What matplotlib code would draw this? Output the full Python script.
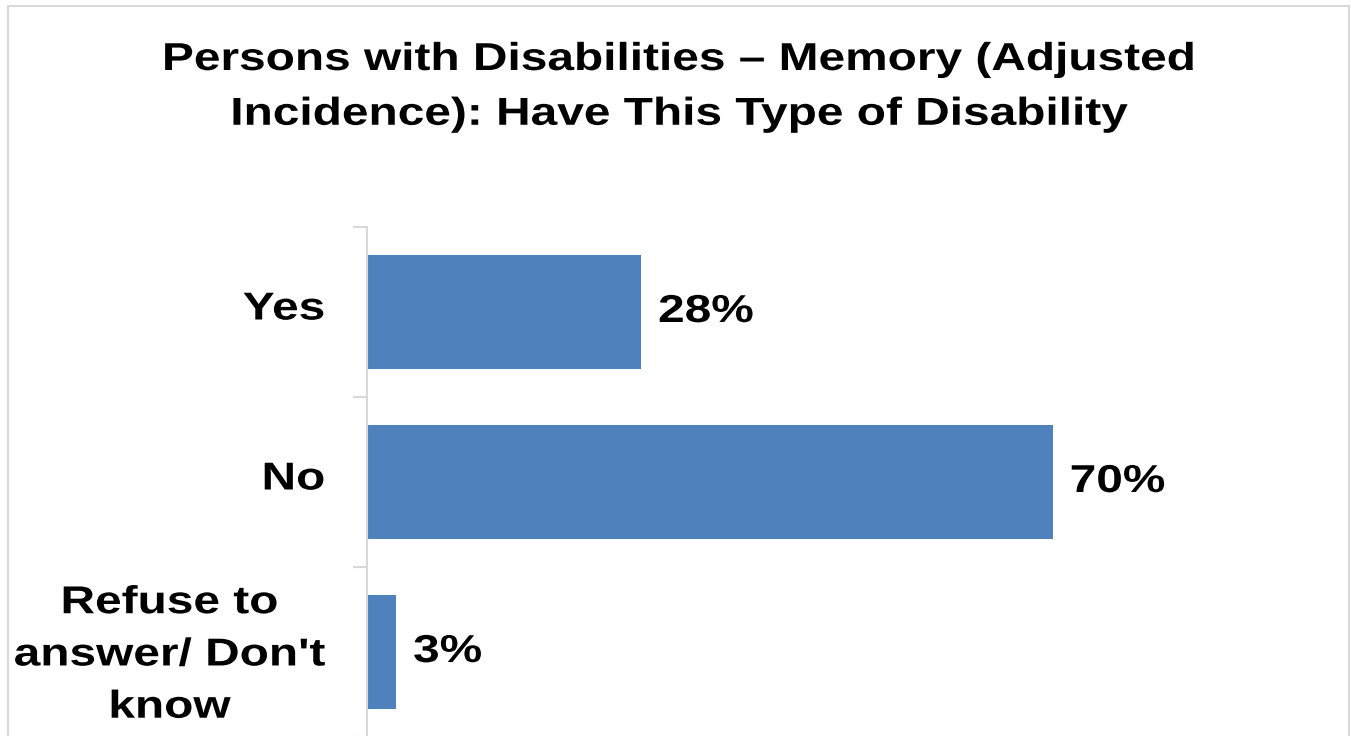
import matplotlib.pyplot as plt
from matplotlib.patches import Rectangle
from matplotlib.patheffects import AbstractPathEffect
from matplotlib.transforms import Affine2D

plt.rcParams['font.family'] = ['Liberation Sans', 'DejaVu Sans']
plt.rcParams['font.weight'] = 'bold'

title = "Persons with Disabilities \u2013 Memory (Adjusted\nIncidence): Have This Type of Disability"
categories = ["Yes", "No", "Refuse to\nanswer/ Don't\nknow"]
values = [28, 70, 3]
labels = ["28%", "70%", "3%"]

bar_color = "#4F81BD"
grid_gray = "#D9D9D9"
SX = 1.23  # reference text is wider than plain Arial


class Stretch(AbstractPathEffect):
    """Stretch glyphs horizontally around a display x given by anchor()."""

    def __init__(self, sx, anchor):
        super().__init__()
        self.sx = sx
        self.anchor = anchor

    def draw_path(self, renderer, gc, tpath, affine, rgbFace=None):
        x0 = self.anchor()
        t = affine + Affine2D().translate(-x0, 0).scale(self.sx, 1).translate(x0, 0)
        renderer.draw_path(gc, tpath, t, rgbFace)


fig = plt.figure(figsize=(13.51, 7.36), dpi=100)
W, H = 1351, 736

# outer chart border
fig.patches.append(Rectangle((8 / W, -0.05), (1349 - 8) / W, (736 - 6) / H + 0.05,
                             transform=fig.transFigure, fill=False,
                             edgecolor=grid_gray, linewidth=1.5))

tx = 679 / W
fig.text(tx, 1 - 42 / H, title, ha='center', va='top', fontsize=28,
         fontweight='bold', linespacing=1.67,
         path_effects=[Stretch(SX, lambda: fig.transFigure.transform((tx, 0))[0])])

ax = fig.add_axes([367 / W, (736 - 737) / H, 980 / W, 510 / H])
y = list(range(len(categories)))
ax.barh(y, values, height=0.665, color=bar_color)
ax.set_ylim(len(categories) - 0.5, -0.5)
ax.set_xlim(0, 100)

# value labels right of the bars
gap_pt = 12
for yi, v, lab in zip(y, values, labels):
    anchor = (lambda v=v: ax.transData.transform((v, 0))[0] + gap_pt * fig.dpi / 72)
    ax.annotate(lab, (v, yi), xytext=(gap_pt, 0), textcoords='offset points',
                ha='left', va='center', fontsize=28, fontweight='bold',
                path_effects=[Stretch(SX, anchor)])

# category labels left of the axis
pad_pt = 30
lab_anchor = lambda: ax.transAxes.transform((0, 0))[0] - pad_pt * fig.dpi / 72
for yi, cat in zip(y, categories):
    dy = 1.8 if "\n" not in cat else -2.5
    ax.annotate(cat, (0, yi), xycoords=('axes fraction', 'data'),
                xytext=(-pad_pt, dy), textcoords='offset points',
                ha='right', va='center', multialignment='center',
                fontsize=28, fontweight='bold', linespacing=1.58,
                annotation_clip=False,
                path_effects=[Stretch(SX, lab_anchor)])

ax.set_yticks([-0.5, 0.5, 1.5, 2.5])
ax.set_yticklabels([])
ax.tick_params(axis='y', length=10, width=1.5, color=grid_gray)
ax.set_xticks([])

for s in ['top', 'right', 'bottom']:
    ax.spines[s].set_visible(False)
ax.spines['left'].set_color(grid_gray)
ax.spines['left'].set_linewidth(1.5)

fig.savefig("out.png", dpi=100)
